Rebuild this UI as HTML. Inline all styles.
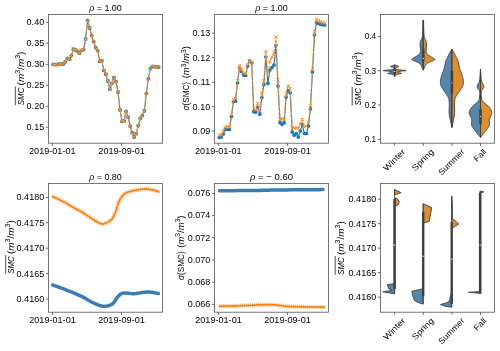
<!DOCTYPE html>
<html><head><meta charset="utf-8"><style>
html,body{margin:0;padding:0;background:#fff;}
svg{display:block;will-change:transform;}
text{font-family:"Liberation Sans", sans-serif;fill:#000;}
</style></head><body>
<svg width="500" height="351" viewBox="0 0 500 351">
<rect width="500" height="351" fill="#fff"/>
<rect x="48.5" y="14.5" width="114" height="128.7" fill="none" stroke="#555" stroke-width="0.8"/>
<rect x="214.5" y="14.5" width="114" height="128.7" fill="none" stroke="#555" stroke-width="0.8"/>
<rect x="380.5" y="14.5" width="114" height="128.7" fill="none" stroke="#555" stroke-width="0.8"/>
<rect x="48.5" y="183.5" width="114" height="128.7" fill="none" stroke="#555" stroke-width="0.8"/>
<rect x="214.5" y="183.5" width="114" height="128.7" fill="none" stroke="#555" stroke-width="0.8"/>
<rect x="380.5" y="183.5" width="114" height="128.7" fill="none" stroke="#555" stroke-width="0.8"/>
<line x1="45.9" y1="22.4" x2="48.5" y2="22.4" stroke="#555" stroke-width="0.9"/>
<text x="44.2" y="25.3" font-size="9" text-anchor="end" textLength="17.6" lengthAdjust="spacingAndGlyphs">0.40</text>
<line x1="45.9" y1="43.36" x2="48.5" y2="43.36" stroke="#555" stroke-width="0.9"/>
<text x="44.2" y="46.26" font-size="9" text-anchor="end" textLength="17.6" lengthAdjust="spacingAndGlyphs">0.35</text>
<line x1="45.9" y1="64.32" x2="48.5" y2="64.32" stroke="#555" stroke-width="0.9"/>
<text x="44.2" y="67.22" font-size="9" text-anchor="end" textLength="17.6" lengthAdjust="spacingAndGlyphs">0.30</text>
<line x1="45.9" y1="85.28" x2="48.5" y2="85.28" stroke="#555" stroke-width="0.9"/>
<text x="44.2" y="88.18" font-size="9" text-anchor="end" textLength="17.6" lengthAdjust="spacingAndGlyphs">0.25</text>
<line x1="45.9" y1="106.24" x2="48.5" y2="106.24" stroke="#555" stroke-width="0.9"/>
<text x="44.2" y="109.14" font-size="9" text-anchor="end" textLength="17.6" lengthAdjust="spacingAndGlyphs">0.20</text>
<line x1="45.9" y1="127.2" x2="48.5" y2="127.2" stroke="#555" stroke-width="0.9"/>
<text x="44.2" y="130.1" font-size="9" text-anchor="end" textLength="17.6" lengthAdjust="spacingAndGlyphs">0.15</text>
<line x1="52.3" y1="143.2" x2="52.3" y2="145.8" stroke="#555" stroke-width="0.9"/>
<text x="52.3" y="154.2" font-size="9" text-anchor="middle" textLength="46.5" lengthAdjust="spacingAndGlyphs">2019-01-01</text>
<line x1="121.6" y1="143.2" x2="121.6" y2="145.8" stroke="#555" stroke-width="0.9"/>
<text x="121.6" y="154.2" font-size="9" text-anchor="middle" textLength="46.5" lengthAdjust="spacingAndGlyphs">2019-09-01</text>
<polyline points="53.2,64.4 55.23,64.6 57.25,64.6 59.28,63.9 61.3,64 63.33,64 65.35,61.8 67.38,58.4 69.4,59.2 71.42,55.5 73.45,49.2 75.47,49.9 77.5,51.4 79.53,53 81.55,50.3 83.58,49.7 85.6,38.8 87.62,20.4 89.65,28 91.68,35.6 93.7,41.6 95.72,47.7 97.75,50.6 99.78,61.3 101.8,60.6 103.83,70.3 105.85,74.2 107.88,80.9 109.9,89.1 111.92,83.4 113.95,77.7 115.97,81.7 118,91.9 120.03,110 122.05,121.4 124.08,120.9 126.1,111.4 128.12,117.1 130.15,126.1 132.18,132.7 134.2,137 136.22,133.7 138.25,125.6 140.28,118.5 142.3,115.7 144.32,111 146.35,93.5 148.38,78.7 150.4,68.5 152.43,66.3 154.45,66.8 156.47,66.8 158.5,67.2" fill="none" stroke="#1f77b4" stroke-width="1.1"/>
<circle cx="53.2" cy="64.4" r="1.9" fill="#1f77b4"/>
<circle cx="55.23" cy="64.6" r="1.9" fill="#1f77b4"/>
<circle cx="57.25" cy="64.6" r="1.9" fill="#1f77b4"/>
<circle cx="59.28" cy="63.9" r="1.9" fill="#1f77b4"/>
<circle cx="61.3" cy="64" r="1.9" fill="#1f77b4"/>
<circle cx="63.33" cy="64" r="1.9" fill="#1f77b4"/>
<circle cx="65.35" cy="61.8" r="1.9" fill="#1f77b4"/>
<circle cx="67.38" cy="58.4" r="1.9" fill="#1f77b4"/>
<circle cx="69.4" cy="59.2" r="1.9" fill="#1f77b4"/>
<circle cx="71.42" cy="55.5" r="1.9" fill="#1f77b4"/>
<circle cx="73.45" cy="49.2" r="1.9" fill="#1f77b4"/>
<circle cx="75.47" cy="49.9" r="1.9" fill="#1f77b4"/>
<circle cx="77.5" cy="51.4" r="1.9" fill="#1f77b4"/>
<circle cx="79.53" cy="53" r="1.9" fill="#1f77b4"/>
<circle cx="81.55" cy="50.3" r="1.9" fill="#1f77b4"/>
<circle cx="83.58" cy="49.7" r="1.9" fill="#1f77b4"/>
<circle cx="85.6" cy="38.8" r="1.9" fill="#1f77b4"/>
<circle cx="87.62" cy="20.4" r="1.9" fill="#1f77b4"/>
<circle cx="89.65" cy="28" r="1.9" fill="#1f77b4"/>
<circle cx="91.68" cy="35.6" r="1.9" fill="#1f77b4"/>
<circle cx="93.7" cy="41.6" r="1.9" fill="#1f77b4"/>
<circle cx="95.72" cy="47.7" r="1.9" fill="#1f77b4"/>
<circle cx="97.75" cy="50.6" r="1.9" fill="#1f77b4"/>
<circle cx="99.78" cy="61.3" r="1.9" fill="#1f77b4"/>
<circle cx="101.8" cy="60.6" r="1.9" fill="#1f77b4"/>
<circle cx="103.83" cy="70.3" r="1.9" fill="#1f77b4"/>
<circle cx="105.85" cy="74.2" r="1.9" fill="#1f77b4"/>
<circle cx="107.88" cy="80.9" r="1.9" fill="#1f77b4"/>
<circle cx="109.9" cy="89.1" r="1.9" fill="#1f77b4"/>
<circle cx="111.92" cy="83.4" r="1.9" fill="#1f77b4"/>
<circle cx="113.95" cy="77.7" r="1.9" fill="#1f77b4"/>
<circle cx="115.97" cy="81.7" r="1.9" fill="#1f77b4"/>
<circle cx="118" cy="91.9" r="1.9" fill="#1f77b4"/>
<circle cx="120.03" cy="110" r="1.9" fill="#1f77b4"/>
<circle cx="122.05" cy="121.4" r="1.9" fill="#1f77b4"/>
<circle cx="124.08" cy="120.9" r="1.9" fill="#1f77b4"/>
<circle cx="126.1" cy="111.4" r="1.9" fill="#1f77b4"/>
<circle cx="128.12" cy="117.1" r="1.9" fill="#1f77b4"/>
<circle cx="130.15" cy="126.1" r="1.9" fill="#1f77b4"/>
<circle cx="132.18" cy="132.7" r="1.9" fill="#1f77b4"/>
<circle cx="134.2" cy="137" r="1.9" fill="#1f77b4"/>
<circle cx="136.22" cy="133.7" r="1.9" fill="#1f77b4"/>
<circle cx="138.25" cy="125.6" r="1.9" fill="#1f77b4"/>
<circle cx="140.28" cy="118.5" r="1.9" fill="#1f77b4"/>
<circle cx="142.3" cy="115.7" r="1.9" fill="#1f77b4"/>
<circle cx="144.32" cy="111" r="1.9" fill="#1f77b4"/>
<circle cx="146.35" cy="93.5" r="1.9" fill="#1f77b4"/>
<circle cx="148.38" cy="78.7" r="1.9" fill="#1f77b4"/>
<circle cx="150.4" cy="68.5" r="1.9" fill="#1f77b4"/>
<circle cx="152.43" cy="66.3" r="1.9" fill="#1f77b4"/>
<circle cx="154.45" cy="66.8" r="1.9" fill="#1f77b4"/>
<circle cx="156.47" cy="66.8" r="1.9" fill="#1f77b4"/>
<circle cx="158.5" cy="67.2" r="1.9" fill="#1f77b4"/>
<polyline points="53.2,64.4 55.23,64.6 57.25,64.6 59.28,63.9 61.3,64 63.33,64 65.35,61.8 67.38,58.4 69.4,59.2 71.42,55.5 73.45,49.2 75.47,49.9 77.5,51.4 79.53,53 81.55,50.3 83.58,49.7 85.6,38.8 87.62,20.4 89.65,28 91.68,35.6 93.7,41.6 95.72,47.7 97.75,50.6 99.78,61.3 101.8,60.6 103.83,70.3 105.85,74.2 107.88,80.9 109.9,89.1 111.92,83.4 113.95,77.7 115.97,81.7 118,91.9 120.03,110 122.05,121.4 124.08,120.9 126.1,111.4 128.12,117.1 130.15,126.1 132.18,132.7 134.2,137 136.22,133.7 138.25,125.6 140.28,118.5 142.3,115.7 144.32,111 146.35,93.5 148.38,78.7 150.4,68.5 152.43,66.3 154.45,66.8 156.47,66.8 158.5,67.2" fill="none" stroke="#ff9024" stroke-width="1.1" stroke-dasharray="3 1.4"/>
<path d="M51.6 62.8L54.8 66M51.6 66L54.8 62.8M53.62 63L56.83 66.2M53.62 66.2L56.83 63M55.65 63L58.85 66.2M55.65 66.2L58.85 63M57.68 62.3L60.88 65.5M57.68 65.5L60.88 62.3M59.7 62.4L62.9 65.6M59.7 65.6L62.9 62.4M61.73 62.4L64.92 65.6M61.73 65.6L64.92 62.4M63.75 60.2L66.95 63.4M63.75 63.4L66.95 60.2M65.78 56.8L68.97 60M65.78 60L68.97 56.8M67.8 57.6L71 60.8M67.8 60.8L71 57.6M69.83 53.9L73.02 57.1M69.83 57.1L73.02 53.9M71.85 47.6L75.05 50.8M71.85 50.8L75.05 47.6M73.88 48.3L77.07 51.5M73.88 51.5L77.07 48.3M75.9 49.8L79.1 53M75.9 53L79.1 49.8M77.93 51.4L81.12 54.6M77.93 54.6L81.12 51.4M79.95 48.7L83.15 51.9M79.95 51.9L83.15 48.7M81.98 48.1L85.17 51.3M81.98 51.3L85.17 48.1M84 37.2L87.2 40.4M84 40.4L87.2 37.2M86.03 18.8L89.22 22M86.03 22L89.22 18.8M88.05 26.4L91.25 29.6M88.05 29.6L91.25 26.4M90.08 34L93.28 37.2M90.08 37.2L93.28 34M92.1 40L95.3 43.2M92.1 43.2L95.3 40M94.12 46.1L97.32 49.3M94.12 49.3L97.32 46.1M96.15 49L99.35 52.2M96.15 52.2L99.35 49M98.18 59.7L101.38 62.9M98.18 62.9L101.38 59.7M100.2 59L103.4 62.2M100.2 62.2L103.4 59M102.23 68.7L105.42 71.9M102.23 71.9L105.42 68.7M104.25 72.6L107.45 75.8M104.25 75.8L107.45 72.6M106.28 79.3L109.47 82.5M106.28 82.5L109.47 79.3M108.3 87.5L111.5 90.7M108.3 90.7L111.5 87.5M110.33 81.8L113.52 85M110.33 85L113.52 81.8M112.35 76.1L115.55 79.3M112.35 79.3L115.55 76.1M114.38 80.1L117.57 83.3M114.38 83.3L117.57 80.1M116.4 90.3L119.6 93.5M116.4 93.5L119.6 90.3M118.43 108.4L121.62 111.6M118.43 111.6L121.62 108.4M120.45 119.8L123.65 123M120.45 123L123.65 119.8M122.48 119.3L125.67 122.5M122.48 122.5L125.67 119.3M124.5 109.8L127.7 113M124.5 113L127.7 109.8M126.53 115.5L129.72 118.7M126.53 118.7L129.72 115.5M128.55 124.5L131.75 127.7M128.55 127.7L131.75 124.5M130.58 131.1L133.78 134.3M130.58 134.3L133.78 131.1M132.6 135.4L135.8 138.6M132.6 138.6L135.8 135.4M134.62 132.1L137.82 135.3M134.62 135.3L137.82 132.1M136.65 124L139.85 127.2M136.65 127.2L139.85 124M138.68 116.9L141.88 120.1M138.68 120.1L141.88 116.9M140.7 114.1L143.9 117.3M140.7 117.3L143.9 114.1M142.72 109.4L145.92 112.6M142.72 112.6L145.92 109.4M144.75 91.9L147.95 95.1M144.75 95.1L147.95 91.9M146.78 77.1L149.97 80.3M146.78 80.3L149.97 77.1M148.8 66.9L152 70.1M148.8 70.1L152 66.9M150.83 64.7L154.03 67.9M150.83 67.9L154.03 64.7M152.85 65.2L156.05 68.4M152.85 68.4L156.05 65.2M154.88 65.2L158.07 68.4M154.88 68.4L158.07 65.2M156.9 65.6L160.1 68.8M156.9 68.8L160.1 65.6" stroke="#ff9024" stroke-width="1" fill="none"/>
<text x="105.5" y="11.2" font-size="9.3" text-anchor="middle" textLength="32.6" lengthAdjust="spacingAndGlyphs"><tspan font-style="italic">&#961;</tspan> = 1.00</text>
<g transform="translate(23.6,105.2) rotate(-90)">
<text x="0" y="0" font-size="9" font-style="italic" textLength="17.6" lengthAdjust="spacingAndGlyphs">SMC</text>
<text x="19.8" y="0" font-size="9" textLength="33.8" lengthAdjust="spacingAndGlyphs">(<tspan font-style="italic">m</tspan><tspan font-size="6.3" dy="-3.6">3</tspan><tspan dy="3.6">/</tspan><tspan font-style="italic">m</tspan><tspan font-size="6.3" dy="-3.6">3</tspan><tspan dy="3.6">)</tspan></text>
</g>
<line x1="15.3" y1="105.2" x2="15.3" y2="86.5" stroke="#000" stroke-width="0.7"/>
<line x1="211.9" y1="33.2" x2="214.5" y2="33.2" stroke="#555" stroke-width="0.9"/>
<text x="210.2" y="36.1" font-size="9" text-anchor="end" textLength="17.6" lengthAdjust="spacingAndGlyphs">0.13</text>
<line x1="211.9" y1="57.67" x2="214.5" y2="57.67" stroke="#555" stroke-width="0.9"/>
<text x="210.2" y="60.57" font-size="9" text-anchor="end" textLength="17.6" lengthAdjust="spacingAndGlyphs">0.12</text>
<line x1="211.9" y1="82.15" x2="214.5" y2="82.15" stroke="#555" stroke-width="0.9"/>
<text x="210.2" y="85.05" font-size="9" text-anchor="end" textLength="17.6" lengthAdjust="spacingAndGlyphs">0.11</text>
<line x1="211.9" y1="106.62" x2="214.5" y2="106.62" stroke="#555" stroke-width="0.9"/>
<text x="210.2" y="109.52" font-size="9" text-anchor="end" textLength="17.6" lengthAdjust="spacingAndGlyphs">0.10</text>
<line x1="211.9" y1="131.1" x2="214.5" y2="131.1" stroke="#555" stroke-width="0.9"/>
<text x="210.2" y="134" font-size="9" text-anchor="end" textLength="17.6" lengthAdjust="spacingAndGlyphs">0.09</text>
<line x1="218.3" y1="143.2" x2="218.3" y2="145.8" stroke="#555" stroke-width="0.9"/>
<text x="218.3" y="154.2" font-size="9" text-anchor="middle" textLength="46.5" lengthAdjust="spacingAndGlyphs">2019-01-01</text>
<line x1="287.6" y1="143.2" x2="287.6" y2="145.8" stroke="#555" stroke-width="0.9"/>
<text x="287.6" y="154.2" font-size="9" text-anchor="middle" textLength="46.5" lengthAdjust="spacingAndGlyphs">2019-09-01</text>
<polyline points="219.3,137.5 221.33,137.1 223.35,134 225.38,129.4 227.4,129.4 229.43,129.4 231.45,116.5 233.48,101.6 235.5,101.2 237.53,83 239.55,67.4 241.58,71.5 243.6,75.1 245.62,75.5 247.65,66.1 249.68,61 251.7,62.7 253.73,111.7 255.75,112.1 257.78,107 259.8,114.2 261.82,97.6 263.85,84.6 265.88,57 267.9,83.4 269.93,70 271.95,67.5 273.98,65 276,45.5 278.02,86 280.05,122.7 282.07,124.4 284.1,122.7 286.12,97.1 288.15,90.7 290.18,92.8 292.2,131.9 294.23,135.2 296.25,133.5 298.27,137.1 300.3,131 302.32,124.4 304.35,133.5 306.38,133.5 308.4,126.1 310.43,108.9 312.45,71.9 314.48,35.1 316.5,22.4 318.52,23.6 320.55,24.3 322.57,24.7 324.6,25" fill="none" stroke="#1f77b4" stroke-width="1.1"/>
<circle cx="219.3" cy="137.5" r="1.85" fill="#1f77b4"/>
<circle cx="221.33" cy="137.1" r="1.85" fill="#1f77b4"/>
<circle cx="223.35" cy="134" r="1.85" fill="#1f77b4"/>
<circle cx="225.38" cy="129.4" r="1.85" fill="#1f77b4"/>
<circle cx="227.4" cy="129.4" r="1.85" fill="#1f77b4"/>
<circle cx="229.43" cy="129.4" r="1.85" fill="#1f77b4"/>
<circle cx="231.45" cy="116.5" r="1.85" fill="#1f77b4"/>
<circle cx="233.48" cy="101.6" r="1.85" fill="#1f77b4"/>
<circle cx="235.5" cy="101.2" r="1.85" fill="#1f77b4"/>
<circle cx="237.53" cy="83" r="1.85" fill="#1f77b4"/>
<circle cx="239.55" cy="67.4" r="1.85" fill="#1f77b4"/>
<circle cx="241.58" cy="71.5" r="1.85" fill="#1f77b4"/>
<circle cx="243.6" cy="75.1" r="1.85" fill="#1f77b4"/>
<circle cx="245.62" cy="75.5" r="1.85" fill="#1f77b4"/>
<circle cx="247.65" cy="66.1" r="1.85" fill="#1f77b4"/>
<circle cx="249.68" cy="61" r="1.85" fill="#1f77b4"/>
<circle cx="251.7" cy="62.7" r="1.85" fill="#1f77b4"/>
<circle cx="253.73" cy="111.7" r="1.85" fill="#1f77b4"/>
<circle cx="255.75" cy="112.1" r="1.85" fill="#1f77b4"/>
<circle cx="257.78" cy="107" r="1.85" fill="#1f77b4"/>
<circle cx="259.8" cy="114.2" r="1.85" fill="#1f77b4"/>
<circle cx="261.82" cy="97.6" r="1.85" fill="#1f77b4"/>
<circle cx="263.85" cy="84.6" r="1.85" fill="#1f77b4"/>
<circle cx="265.88" cy="57" r="1.85" fill="#1f77b4"/>
<circle cx="267.9" cy="83.4" r="1.85" fill="#1f77b4"/>
<circle cx="269.93" cy="70" r="1.85" fill="#1f77b4"/>
<circle cx="271.95" cy="67.5" r="1.85" fill="#1f77b4"/>
<circle cx="273.98" cy="65" r="1.85" fill="#1f77b4"/>
<circle cx="276" cy="45.5" r="1.85" fill="#1f77b4"/>
<circle cx="278.02" cy="86" r="1.85" fill="#1f77b4"/>
<circle cx="280.05" cy="122.7" r="1.85" fill="#1f77b4"/>
<circle cx="282.07" cy="124.4" r="1.85" fill="#1f77b4"/>
<circle cx="284.1" cy="122.7" r="1.85" fill="#1f77b4"/>
<circle cx="286.12" cy="97.1" r="1.85" fill="#1f77b4"/>
<circle cx="288.15" cy="90.7" r="1.85" fill="#1f77b4"/>
<circle cx="290.18" cy="92.8" r="1.85" fill="#1f77b4"/>
<circle cx="292.2" cy="131.9" r="1.85" fill="#1f77b4"/>
<circle cx="294.23" cy="135.2" r="1.85" fill="#1f77b4"/>
<circle cx="296.25" cy="133.5" r="1.85" fill="#1f77b4"/>
<circle cx="298.27" cy="137.1" r="1.85" fill="#1f77b4"/>
<circle cx="300.3" cy="131" r="1.85" fill="#1f77b4"/>
<circle cx="302.32" cy="124.4" r="1.85" fill="#1f77b4"/>
<circle cx="304.35" cy="133.5" r="1.85" fill="#1f77b4"/>
<circle cx="306.38" cy="133.5" r="1.85" fill="#1f77b4"/>
<circle cx="308.4" cy="126.1" r="1.85" fill="#1f77b4"/>
<circle cx="310.43" cy="108.9" r="1.85" fill="#1f77b4"/>
<circle cx="312.45" cy="71.9" r="1.85" fill="#1f77b4"/>
<circle cx="314.48" cy="35.1" r="1.85" fill="#1f77b4"/>
<circle cx="316.5" cy="22.4" r="1.85" fill="#1f77b4"/>
<circle cx="318.52" cy="23.6" r="1.85" fill="#1f77b4"/>
<circle cx="320.55" cy="24.3" r="1.85" fill="#1f77b4"/>
<circle cx="322.57" cy="24.7" r="1.85" fill="#1f77b4"/>
<circle cx="324.6" cy="25" r="1.85" fill="#1f77b4"/>
<polyline points="219.3,135 221.33,134.7 223.35,131 225.38,126.9 227.4,126.3 229.43,127.2 231.45,114 233.48,99.5 235.5,98.5 237.53,80.5 239.55,65.4 241.58,69.5 243.6,73 245.62,73.5 247.65,64 249.68,60.5 251.7,62 253.73,107.8 255.75,110 257.78,103.5 259.8,110.8 261.82,93.7 263.85,80.9 265.88,51.4 267.9,75.4 269.93,61.5 271.95,57 273.98,53 276,37 278.02,80.1 280.05,119 282.07,118.8 284.1,119.5 286.12,93.5 288.15,85.7 290.18,88.5 292.2,127.7 294.23,128.2 296.25,128 298.27,128.5 300.3,124 302.32,119.5 304.35,127 306.38,126 308.4,122 310.43,105.5 312.45,69 314.48,31.7 316.5,19.1 318.52,20.4 320.55,21.7 322.57,22.7 324.6,23" fill="none" stroke="#ff9024" stroke-width="1.1" stroke-dasharray="3 1.4"/>
<path d="M217.7 133.4L220.9 136.6M217.7 136.6L220.9 133.4M219.73 133.1L222.93 136.3M219.73 136.3L222.93 133.1M221.75 129.4L224.95 132.6M221.75 132.6L224.95 129.4M223.78 125.3L226.97 128.5M223.78 128.5L226.97 125.3M225.8 124.7L229 127.9M225.8 127.9L229 124.7M227.83 125.6L231.03 128.8M227.83 128.8L231.03 125.6M229.85 112.4L233.05 115.6M229.85 115.6L233.05 112.4M231.88 97.9L235.08 101.1M231.88 101.1L235.08 97.9M233.9 96.9L237.1 100.1M233.9 100.1L237.1 96.9M235.93 78.9L239.12 82.1M235.93 82.1L239.12 78.9M237.95 63.8L241.15 67M237.95 67L241.15 63.8M239.98 67.9L243.18 71.1M239.98 71.1L243.18 67.9M242 71.4L245.2 74.6M242 74.6L245.2 71.4M244.03 71.9L247.22 75.1M244.03 75.1L247.22 71.9M246.05 62.4L249.25 65.6M246.05 65.6L249.25 62.4M248.08 58.9L251.28 62.1M248.08 62.1L251.28 58.9M250.1 60.4L253.3 63.6M250.1 63.6L253.3 60.4M252.13 106.2L255.33 109.4M252.13 109.4L255.33 106.2M254.15 108.4L257.35 111.6M254.15 111.6L257.35 108.4M256.18 101.9L259.38 105.1M256.18 105.1L259.38 101.9M258.2 109.2L261.4 112.4M258.2 112.4L261.4 109.2M260.22 92.1L263.43 95.3M260.22 95.3L263.43 92.1M262.25 79.3L265.45 82.5M262.25 82.5L265.45 79.3M264.27 49.8L267.48 53M264.27 53L267.48 49.8M266.3 73.8L269.5 77M266.3 77L269.5 73.8M268.32 59.9L271.53 63.1M268.32 63.1L271.53 59.9M270.35 55.4L273.55 58.6M270.35 58.6L273.55 55.4M272.38 51.4L275.58 54.6M272.38 54.6L275.58 51.4M274.4 35.4L277.6 38.6M274.4 38.6L277.6 35.4M276.42 78.5L279.62 81.7M276.42 81.7L279.62 78.5M278.45 117.4L281.65 120.6M278.45 120.6L281.65 117.4M280.47 117.2L283.68 120.4M280.47 120.4L283.68 117.2M282.5 117.9L285.7 121.1M282.5 121.1L285.7 117.9M284.52 91.9L287.73 95.1M284.52 95.1L287.73 91.9M286.55 84.1L289.75 87.3M286.55 87.3L289.75 84.1M288.57 86.9L291.78 90.1M288.57 90.1L291.78 86.9M290.6 126.1L293.8 129.3M290.6 129.3L293.8 126.1M292.62 126.6L295.83 129.8M292.62 129.8L295.83 126.6M294.65 126.4L297.85 129.6M294.65 129.6L297.85 126.4M296.67 126.9L299.88 130.1M296.67 130.1L299.88 126.9M298.7 122.4L301.9 125.6M298.7 125.6L301.9 122.4M300.72 117.9L303.93 121.1M300.72 121.1L303.93 117.9M302.75 125.4L305.95 128.6M302.75 128.6L305.95 125.4M304.77 124.4L307.98 127.6M304.77 127.6L307.98 124.4M306.8 120.4L310 123.6M306.8 123.6L310 120.4M308.82 103.9L312.03 107.1M308.82 107.1L312.03 103.9M310.85 67.4L314.05 70.6M310.85 70.6L314.05 67.4M312.88 30.1L316.08 33.3M312.88 33.3L316.08 30.1M314.9 17.5L318.1 20.7M314.9 20.7L318.1 17.5M316.92 18.8L320.12 22M316.92 22L320.12 18.8M318.95 20.1L322.15 23.3M318.95 23.3L322.15 20.1M320.97 21.1L324.18 24.3M320.97 24.3L324.18 21.1M323 21.4L326.2 24.6M323 24.6L326.2 21.4" stroke="#ff9024" stroke-width="1" fill="none"/>
<text x="271.5" y="11.2" font-size="9.3" text-anchor="middle" textLength="32.6" lengthAdjust="spacingAndGlyphs"><tspan font-style="italic">&#961;</tspan> = 1.00</text>
<g transform="translate(189.3,110.5) rotate(-90)">
<text x="0" y="0" font-size="9" textLength="28.6" lengthAdjust="spacingAndGlyphs"><tspan font-style="italic">&#963;</tspan>(SMC)</text>
<text x="32.2" y="0" font-size="9" textLength="32.2" lengthAdjust="spacingAndGlyphs">(<tspan font-style="italic">m</tspan><tspan font-size="6.3" dy="-3.6">3</tspan><tspan dy="3.6">/</tspan><tspan font-style="italic">m</tspan><tspan font-size="6.3" dy="-3.6">3</tspan><tspan dy="3.6">)</tspan></text>
</g>
<line x1="377.9" y1="36.4" x2="380.5" y2="36.4" stroke="#555" stroke-width="0.9"/>
<text x="376.2" y="39.3" font-size="9" text-anchor="end" textLength="11.5" lengthAdjust="spacingAndGlyphs">0.4</text>
<line x1="377.9" y1="70.73" x2="380.5" y2="70.73" stroke="#555" stroke-width="0.9"/>
<text x="376.2" y="73.63" font-size="9" text-anchor="end" textLength="11.5" lengthAdjust="spacingAndGlyphs">0.3</text>
<line x1="377.9" y1="105.06" x2="380.5" y2="105.06" stroke="#555" stroke-width="0.9"/>
<text x="376.2" y="107.96" font-size="9" text-anchor="end" textLength="11.5" lengthAdjust="spacingAndGlyphs">0.2</text>
<line x1="377.9" y1="139.39" x2="380.5" y2="139.39" stroke="#555" stroke-width="0.9"/>
<text x="376.2" y="142.29" font-size="9" text-anchor="end" textLength="11.5" lengthAdjust="spacingAndGlyphs">0.1</text>
<g transform="translate(360.5,105.6) rotate(-90)">
<text x="0" y="0" font-size="9" font-style="italic" textLength="17.6" lengthAdjust="spacingAndGlyphs">SMC</text>
<text x="19.8" y="0" font-size="9" textLength="33.8" lengthAdjust="spacingAndGlyphs">(<tspan font-style="italic">m</tspan><tspan font-size="6.3" dy="-3.6">3</tspan><tspan dy="3.6">/</tspan><tspan font-style="italic">m</tspan><tspan font-size="6.3" dy="-3.6">3</tspan><tspan dy="3.6">)</tspan></text>
</g>
<line x1="352.2" y1="105.6" x2="352.2" y2="86.9" stroke="#000" stroke-width="0.7"/>
<path d="M394.7 64.8L394.7 64.8L394.35 64.94L393.84 65.14L393.26 65.37L392.7 65.6L392.07 65.82L391.35 66.05L390.76 66.28L390.5 66.5L390.72 66.7L391.28 66.89L391.95 67.09L392.5 67.3L392.92 67.53L393.31 67.77L393.62 68.02L393.8 68.3L394 68.61L394.21 68.96L394.06 69.3L393.2 69.6L391 69.86L387.82 70.09L384.83 70.3L383.2 70.5L383.53 70.69L385.11 70.86L387.1 71.02L388.7 71.2L389.84 71.39L390.92 71.59L391.76 71.8L392.2 72L392.1 72.2L391.57 72.41L390.86 72.61L390.2 72.8L389.48 72.96L388.64 73.11L387.95 73.25L387.7 73.4L388.07 73.54L388.87 73.68L389.84 73.82L390.7 74L391.45 74.21L392.21 74.44L392.92 74.71L393.5 75L393.94 75.38L394.27 75.81L394.52 76.22L394.7 76.5L394.7 76.5Z" fill="#5686ad" stroke="#404040" stroke-width="0.9" stroke-linejoin="round"/>
<path d="M394.7 64.8L394.7 64.8L395.05 64.94L395.56 65.14L396.14 65.37L396.7 65.6L397.33 65.82L398.05 66.05L398.64 66.28L398.9 66.5L398.68 66.7L398.12 66.89L397.45 67.09L396.9 67.3L396.48 67.53L396.09 67.77L395.77 68.02L395.6 68.3L395.4 68.61L395.19 68.96L395.34 69.3L396.2 69.6L398.4 69.86L401.58 70.09L404.57 70.3L406.2 70.5L405.87 70.69L404.29 70.86L402.3 71.02L400.7 71.2L399.56 71.39L398.48 71.59L397.64 71.8L397.2 72L397.3 72.2L397.82 72.41L398.54 72.61L399.2 72.8L399.92 72.96L400.76 73.11L401.45 73.25L401.7 73.4L401.33 73.54L400.53 73.68L399.56 73.82L398.7 74L397.95 74.21L397.19 74.44L396.48 74.71L395.9 75L395.46 75.38L395.12 75.81L394.88 76.22L394.7 76.5L394.7 76.5Z" fill="#e08d2b" stroke="#404040" stroke-width="0.9" stroke-linejoin="round"/>
<line x1="394.7" y1="64.8" x2="394.7" y2="76.5" stroke="#404040" stroke-width="0.8"/>
<line x1="394.7" y1="68.8" x2="394.7" y2="74" stroke="#404040" stroke-width="2.6"/>
<circle cx="394.7" cy="71.4" r="0.65" fill="#ddd"/>
<path d="M423.3 20L423.1 20L423.05 21.89L422.97 24.62L422.88 27.55L422.8 30L422.74 31.86L422.68 33.47L422.61 34.84L422.5 36L422.34 36.87L422.15 37.47L421.93 37.96L421.7 38.5L421.43 39.09L421.13 39.66L420.84 40.27L420.6 41L420.41 41.89L420.26 42.91L420.15 43.96L420.1 45L420.13 46.02L420.23 47.06L420.33 48.07L420.4 49L420.43 49.83L420.45 50.59L420.42 51.31L420.3 52L420.1 52.67L419.83 53.31L419.47 53.92L419 54.5L418.38 55.04L417.62 55.53L416.81 56.01L416 56.5L415.14 57.03L414.23 57.57L413.37 58.08L412.7 58.5L412.24 58.8L411.93 59.02L411.76 59.2L411.7 59.4L411.76 59.62L411.94 59.83L412.26 60.05L412.7 60.3L413.33 60.57L414.12 60.86L414.98 61.17L415.8 61.5L416.58 61.84L417.37 62.2L418.12 62.58L418.8 63L419.39 63.45L419.91 63.94L420.37 64.45L420.8 65L421.18 65.59L421.5 66.21L421.8 66.86L422.1 67.5L422.44 68.2L422.78 68.96L423.09 69.63L423.3 70.1L423.3 70.1Z" fill="#5686ad" stroke="#404040" stroke-width="0.9" stroke-linejoin="round"/>
<path d="M423.3 20L423.5 20L423.55 21.89L423.63 24.62L423.72 27.55L423.8 30L423.86 31.86L423.92 33.47L423.99 34.84L424.1 36L424.26 36.87L424.45 37.47L424.67 37.96L424.9 38.5L425.17 39.09L425.47 39.66L425.76 40.27L426 41L426.19 41.89L426.34 42.91L426.45 43.96L426.5 45L426.47 46.02L426.38 47.06L426.27 48.07L426.2 49L426.17 49.83L426.15 50.59L426.18 51.31L426.3 52L426.5 52.67L426.77 53.31L427.13 53.92L427.6 54.5L428.22 55.04L428.98 55.53L429.79 56.01L430.6 56.5L431.46 57.03L432.38 57.57L433.23 58.08L433.9 58.5L434.36 58.8L434.67 59.02L434.84 59.2L434.9 59.4L434.84 59.62L434.66 59.83L434.34 60.05L433.9 60.3L433.27 60.57L432.48 60.86L431.62 61.17L430.8 61.5L430.02 61.84L429.23 62.2L428.48 62.58L427.8 63L427.21 63.45L426.69 63.94L426.23 64.45L425.8 65L425.42 65.59L425.1 66.21L424.8 66.86L424.5 67.5L424.16 68.2L423.82 68.96L423.51 69.63L423.3 70.1L423.3 70.1Z" fill="#e08d2b" stroke="#404040" stroke-width="0.9" stroke-linejoin="round"/>
<line x1="423.3" y1="20" x2="423.3" y2="70" stroke="#404040" stroke-width="0.8"/>
<line x1="423.3" y1="48.7" x2="423.3" y2="61.5" stroke="#404040" stroke-width="2.6"/>
<circle cx="423.3" cy="58.5" r="0.65" fill="#ddd"/>
<path d="M451.9 49L451.9 49L451.77 49.26L451.57 49.62L451.35 50.05L451.1 50.5L450.83 50.95L450.52 51.44L450.21 51.95L449.9 52.5L449.61 53.07L449.32 53.68L449.03 54.31L448.7 55L448.31 55.78L447.89 56.64L447.47 57.48L447.1 58.2L446.8 58.72L446.55 59.11L446.32 59.5L446.1 60L445.89 60.64L445.69 61.36L445.5 62.14L445.3 63L445.11 63.96L444.92 65.03L444.72 66.1L444.5 67.1L444.25 67.99L443.98 68.82L443.7 69.65L443.4 70.5L443.09 71.39L442.76 72.29L442.43 73.23L442.1 74.2L441.75 75.23L441.39 76.31L441.06 77.41L440.8 78.5L440.61 79.6L440.47 80.72L440.4 81.8L440.4 82.8L440.48 83.7L440.64 84.52L440.85 85.28L441.1 86L441.4 86.65L441.74 87.24L442.12 87.8L442.5 88.4L442.87 89.02L443.26 89.66L443.66 90.31L444.1 91L444.59 91.74L445.13 92.53L445.68 93.33L446.2 94.1L446.71 94.84L447.22 95.57L447.7 96.29L448.1 97L448.41 97.64L448.65 98.22L448.84 98.9L449 99.8L449.13 100.99L449.22 102.39L449.27 103.92L449.3 105.5L449.27 107.22L449.18 109.08L449.11 110.9L449.1 112.5L449.18 113.79L449.32 114.88L449.5 115.9L449.7 117L449.92 118.21L450.16 119.44L450.43 120.71L450.7 122L451.01 123.45L451.36 125.01L451.68 126.42L451.9 127.4L451.9 127.4Z" fill="#5686ad" stroke="#404040" stroke-width="0.9" stroke-linejoin="round"/>
<path d="M451.9 49L451.9 49L452.03 49.26L452.22 49.62L452.45 50.05L452.7 50.5L452.97 50.95L453.27 51.44L453.59 51.95L453.9 52.5L454.19 53.07L454.47 53.68L454.77 54.31L455.1 55L455.49 55.78L455.91 56.64L456.33 57.48L456.7 58.2L457 58.72L457.25 59.11L457.48 59.5L457.7 60L457.91 60.64L458.11 61.36L458.3 62.14L458.5 63L458.69 63.96L458.88 65.03L459.08 66.1L459.3 67.1L459.55 67.99L459.82 68.82L460.1 69.65L460.4 70.5L460.71 71.39L461.04 72.29L461.37 73.23L461.7 74.2L462.05 75.23L462.41 76.31L462.74 77.41L463 78.5L463.19 79.6L463.32 80.72L463.4 81.8L463.4 82.8L463.32 83.7L463.16 84.52L462.95 85.28L462.7 86L462.4 86.65L462.06 87.24L461.68 87.8L461.3 88.4L460.93 89.02L460.54 89.66L460.14 90.31L459.7 91L459.21 91.74L458.67 92.53L458.12 93.33L457.6 94.1L457.09 94.84L456.57 95.57L456.1 96.29L455.7 97L455.39 97.64L455.15 98.22L454.96 98.9L454.8 99.8L454.67 100.99L454.58 102.39L454.53 103.92L454.5 105.5L454.53 107.22L454.62 109.08L454.69 110.9L454.7 112.5L454.62 113.79L454.47 114.88L454.3 115.9L454.1 117L453.88 118.21L453.64 119.44L453.37 120.71L453.1 122L452.79 123.45L452.44 125.01L452.12 126.42L451.9 127.4L451.9 127.4Z" fill="#e08d2b" stroke="#404040" stroke-width="0.9" stroke-linejoin="round"/>
<line x1="451.9" y1="49" x2="451.9" y2="127.4" stroke="#404040" stroke-width="0.8"/>
<line x1="451.9" y1="70.7" x2="451.9" y2="93.4" stroke="#404040" stroke-width="2.6"/>
<circle cx="451.9" cy="82.8" r="0.65" fill="#ddd"/>
<path d="M480.5 69L480.5 69L480.41 70.3L480.28 72.19L480.14 74.23L480 76L479.89 77.45L479.79 78.78L479.67 79.97L479.5 81L479.25 81.81L478.94 82.42L478.61 82.95L478.3 83.5L477.99 84.09L477.66 84.67L477.37 85.24L477.2 85.8L477.15 86.36L477.19 86.92L477.31 87.47L477.5 88L477.81 88.5L478.23 88.98L478.65 89.47L479 90L479.25 90.54L479.45 91.09L479.6 91.72L479.7 92.5L479.75 93.51L479.75 94.69L479.7 95.9L479.6 97L479.46 97.97L479.28 98.88L479.04 99.72L478.7 100.5L478.27 101.18L477.76 101.78L477.17 102.36L476.5 103L475.7 103.7L474.79 104.44L473.86 105.2L473 106L472.21 106.84L471.44 107.72L470.76 108.61L470.2 109.5L469.78 110.39L469.46 111.28L469.27 112.16L469.2 113L469.3 113.77L469.54 114.5L469.87 115.23L470.2 116L470.58 116.84L471.02 117.72L471.43 118.61L471.7 119.5L471.76 120.39L471.67 121.28L471.55 122.16L471.5 123L471.52 123.79L471.56 124.53L471.67 125.26L471.9 126L472.3 126.74L472.82 127.47L473.41 128.21L474 129L474.61 129.86L475.26 130.78L475.9 131.68L476.5 132.5L477.04 133.2L477.53 133.81L478.01 134.4L478.5 135L479.05 135.68L479.62 136.41L480.14 137.05L480.5 137.5L480.5 137.5Z" fill="#5686ad" stroke="#404040" stroke-width="0.9" stroke-linejoin="round"/>
<path d="M480.5 69L480.5 69L480.59 70.3L480.72 72.19L480.86 74.23L481 76L481.11 77.45L481.21 78.78L481.33 79.97L481.5 81L481.75 81.81L482.06 82.42L482.39 82.95L482.7 83.5L483.01 84.09L483.34 84.67L483.63 85.24L483.8 85.8L483.85 86.36L483.81 86.92L483.69 87.47L483.5 88L483.19 88.5L482.77 88.98L482.35 89.47L482 90L481.75 90.54L481.55 91.09L481.4 91.72L481.3 92.5L481.25 93.51L481.25 94.69L481.3 95.9L481.4 97L481.54 97.97L481.72 98.88L481.96 99.72L482.3 100.5L482.73 101.18L483.24 101.78L483.83 102.36L484.5 103L485.3 103.7L486.21 104.44L487.14 105.2L488 106L488.79 106.84L489.56 107.72L490.24 108.61L490.8 109.5L491.22 110.39L491.54 111.28L491.73 112.16L491.8 113L491.7 113.77L491.46 114.5L491.13 115.23L490.8 116L490.42 116.84L489.98 117.72L489.57 118.61L489.3 119.5L489.24 120.39L489.33 121.28L489.45 122.16L489.5 123L489.48 123.79L489.44 124.53L489.33 125.26L489.1 126L488.7 126.74L488.18 127.47L487.59 128.21L487 129L486.39 129.86L485.74 130.78L485.1 131.68L484.5 132.5L483.96 133.2L483.47 133.81L482.99 134.4L482.5 135L481.95 135.68L481.38 136.41L480.86 137.05L480.5 137.5L480.5 137.5Z" fill="#e08d2b" stroke="#404040" stroke-width="0.9" stroke-linejoin="round"/>
<line x1="480.5" y1="69" x2="480.5" y2="137.3" stroke="#404040" stroke-width="0.8"/>
<line x1="480.5" y1="109.2" x2="480.5" y2="124.2" stroke="#404040" stroke-width="2.6"/>
<circle cx="480.5" cy="116.4" r="0.65" fill="#ddd"/>
<line x1="394.7" y1="143.2" x2="394.7" y2="145.8" stroke="#555" stroke-width="0.9"/>
<line x1="423.3" y1="143.2" x2="423.3" y2="145.8" stroke="#555" stroke-width="0.9"/>
<line x1="451.9" y1="143.2" x2="451.9" y2="145.8" stroke="#555" stroke-width="0.9"/>
<line x1="480.5" y1="143.2" x2="480.5" y2="145.8" stroke="#555" stroke-width="0.9"/>
<g transform="translate(405.75,152.3) rotate(-45)">
<text x="0" y="0" font-size="8.4" text-anchor="end" textLength="27" lengthAdjust="spacingAndGlyphs">Winter</text>
</g>
<g transform="translate(434.35,152.3) rotate(-45)">
<text x="0" y="0" font-size="8.4" text-anchor="end" textLength="27" lengthAdjust="spacingAndGlyphs">Spring</text>
</g>
<g transform="translate(465.07,152.3) rotate(-45)">
<text x="0" y="0" font-size="8.4" text-anchor="end" textLength="33" lengthAdjust="spacingAndGlyphs">Summer</text>
</g>
<g transform="translate(486.95,152.3) rotate(-45)">
<text x="0" y="0" font-size="8.4" text-anchor="end" textLength="14" lengthAdjust="spacingAndGlyphs">Fall</text>
</g>
<line x1="45.9" y1="197.4" x2="48.5" y2="197.4" stroke="#555" stroke-width="0.9"/>
<text x="44.2" y="200.3" font-size="9" text-anchor="end" textLength="27.6" lengthAdjust="spacingAndGlyphs">0.4180</text>
<line x1="45.9" y1="222.8" x2="48.5" y2="222.8" stroke="#555" stroke-width="0.9"/>
<text x="44.2" y="225.7" font-size="9" text-anchor="end" textLength="27.6" lengthAdjust="spacingAndGlyphs">0.4175</text>
<line x1="45.9" y1="248.2" x2="48.5" y2="248.2" stroke="#555" stroke-width="0.9"/>
<text x="44.2" y="251.1" font-size="9" text-anchor="end" textLength="27.6" lengthAdjust="spacingAndGlyphs">0.4170</text>
<line x1="45.9" y1="273.6" x2="48.5" y2="273.6" stroke="#555" stroke-width="0.9"/>
<text x="44.2" y="276.5" font-size="9" text-anchor="end" textLength="27.6" lengthAdjust="spacingAndGlyphs">0.4165</text>
<line x1="45.9" y1="299" x2="48.5" y2="299" stroke="#555" stroke-width="0.9"/>
<text x="44.2" y="301.9" font-size="9" text-anchor="end" textLength="27.6" lengthAdjust="spacingAndGlyphs">0.4160</text>
<line x1="52.5" y1="312.2" x2="52.5" y2="314.8" stroke="#555" stroke-width="0.9"/>
<text x="52.5" y="323.4" font-size="9" text-anchor="middle" textLength="46.5" lengthAdjust="spacingAndGlyphs">2019-01-01</text>
<line x1="121.5" y1="312.2" x2="121.5" y2="314.8" stroke="#555" stroke-width="0.9"/>
<text x="121.5" y="323.4" font-size="9" text-anchor="middle" textLength="46.5" lengthAdjust="spacingAndGlyphs">2019-09-01</text>
<text x="105.5" y="180.2" font-size="9.3" text-anchor="middle" textLength="32.6" lengthAdjust="spacingAndGlyphs"><tspan font-style="italic">&#961;</tspan> = 0.80</text>
<g transform="translate(14,273.8) rotate(-90)">
<text x="0" y="0" font-size="9" font-style="italic" textLength="17.6" lengthAdjust="spacingAndGlyphs">SMC</text>
<text x="19.8" y="0" font-size="9" textLength="33.8" lengthAdjust="spacingAndGlyphs">(<tspan font-style="italic">m</tspan><tspan font-size="6.3" dy="-3.6">3</tspan><tspan dy="3.6">/</tspan><tspan font-style="italic">m</tspan><tspan font-size="6.3" dy="-3.6">3</tspan><tspan dy="3.6">)</tspan></text>
</g>
<line x1="5.7" y1="273.8" x2="5.7" y2="255.1" stroke="#000" stroke-width="0.7"/>
<polyline points="52.8,285 53.8,285.36 55.12,285.82 56.68,286.37 58.42,286.99 60.29,287.66 62.22,288.36 64.14,289.08 66,289.8 67.88,290.55 69.87,291.35 71.94,292.2 74.02,293.06 76.08,293.93 78.07,294.79 79.92,295.62 81.6,296.4 83.09,297.14 84.42,297.87 85.64,298.57 86.77,299.26 87.86,299.93 88.94,300.58 90.04,301.2 91.2,301.8 92.43,302.39 93.69,302.99 94.97,303.57 96.24,304.12 97.49,304.63 98.67,305.09 99.79,305.49 100.8,305.8 101.69,306.04 102.48,306.21 103.19,306.32 103.84,306.37 104.48,306.37 105.11,306.32 105.78,306.23 106.5,306.1 107.28,305.94 108.1,305.74 108.94,305.5 109.78,305.21 110.62,304.87 111.45,304.45 112.24,303.97 113,303.4 113.71,302.7 114.39,301.84 115.05,300.89 115.68,299.88 116.31,298.87 116.93,297.9 117.56,297.03 118.2,296.3 118.81,295.69 119.38,295.14 119.92,294.65 120.48,294.22 121.07,293.85 121.73,293.54 122.5,293.29 123.4,293.1 124.46,293.01 125.66,293.03 126.98,293.13 128.36,293.28 129.77,293.45 131.17,293.59 132.53,293.69 133.8,293.7 135.02,293.62 136.23,293.49 137.42,293.31 138.59,293.11 139.74,292.9 140.84,292.7 141.9,292.53 142.9,292.4 143.82,292.3 144.65,292.22 145.41,292.14 146.15,292.09 146.89,292.05 147.65,292.04 148.48,292.05 149.4,292.1 150.48,292.19 151.71,292.34 153.02,292.53 154.36,292.73 155.64,292.94 156.8,293.13 157.78,293.29 158.5,293.4" fill="none" stroke="#3a7db4" stroke-width="3.5" stroke-opacity="1" stroke-linecap="round" stroke-linejoin="round"/>
<polyline points="52.3,196.4 53.05,196.75 54.04,197.2 55.22,197.74 56.54,198.35 57.94,199.01 59.39,199.7 60.82,200.4 62.2,201.1 63.56,201.82 64.98,202.6 66.43,203.41 67.89,204.24 69.36,205.08 70.81,205.91 72.23,206.72 73.6,207.5 74.93,208.25 76.23,208.97 77.51,209.69 78.77,210.39 80.01,211.09 81.23,211.79 82.43,212.49 83.6,213.2 84.75,213.92 85.88,214.66 86.99,215.41 88.08,216.15 89.15,216.88 90.19,217.59 91.21,218.26 92.2,218.9 93.18,219.51 94.15,220.11 95.1,220.7 96.03,221.26 96.92,221.77 97.76,222.24 98.56,222.66 99.3,223 99.94,223.29 100.47,223.54 100.93,223.75 101.36,223.9 101.8,223.99 102.27,224.01 102.83,223.95 103.5,223.8 104.32,223.56 105.26,223.24 106.28,222.85 107.34,222.38 108.41,221.85 109.43,221.25 110.38,220.6 111.2,219.9 111.91,219.14 112.54,218.3 113.1,217.41 113.62,216.45 114.1,215.44 114.57,214.4 115.03,213.31 115.5,212.2 115.96,211.02 116.37,209.75 116.76,208.41 117.14,207.05 117.53,205.69 117.94,204.35 118.4,203.08 118.9,201.9 119.44,200.78 120,199.69 120.57,198.63 121.18,197.62 121.83,196.66 122.53,195.76 123.28,194.94 124.1,194.2 124.98,193.56 125.91,193.01 126.89,192.54 127.92,192.12 129.01,191.76 130.15,191.43 131.35,191.11 132.6,190.8 133.96,190.49 135.44,190.19 137,189.92 138.6,189.68 140.2,189.47 141.76,189.3 143.24,189.18 144.6,189.1 145.85,189.08 147.03,189.12 148.15,189.2 149.22,189.32 150.25,189.47 151.23,189.64 152.18,189.82 153.1,190 154.01,190.21 154.92,190.47 155.8,190.76 156.63,191.06 157.4,191.35 158.08,191.61 158.65,191.84 159.1,192" fill="none" stroke="#ff7f0e" stroke-width="4" stroke-opacity="0.6" stroke-linecap="butt" stroke-linejoin="round" stroke-dasharray="1.1 0.95"/>
<polyline points="52.3,196.4 53.05,196.75 54.04,197.2 55.22,197.74 56.54,198.35 57.94,199.01 59.39,199.7 60.82,200.4 62.2,201.1 63.56,201.82 64.98,202.6 66.43,203.41 67.89,204.24 69.36,205.08 70.81,205.91 72.23,206.72 73.6,207.5 74.93,208.25 76.23,208.97 77.51,209.69 78.77,210.39 80.01,211.09 81.23,211.79 82.43,212.49 83.6,213.2 84.75,213.92 85.88,214.66 86.99,215.41 88.08,216.15 89.15,216.88 90.19,217.59 91.21,218.26 92.2,218.9 93.18,219.51 94.15,220.11 95.1,220.7 96.03,221.26 96.92,221.77 97.76,222.24 98.56,222.66 99.3,223 99.94,223.29 100.47,223.54 100.93,223.75 101.36,223.9 101.8,223.99 102.27,224.01 102.83,223.95 103.5,223.8 104.32,223.56 105.26,223.24 106.28,222.85 107.34,222.38 108.41,221.85 109.43,221.25 110.38,220.6 111.2,219.9 111.91,219.14 112.54,218.3 113.1,217.41 113.62,216.45 114.1,215.44 114.57,214.4 115.03,213.31 115.5,212.2 115.96,211.02 116.37,209.75 116.76,208.41 117.14,207.05 117.53,205.69 117.94,204.35 118.4,203.08 118.9,201.9 119.44,200.78 120,199.69 120.57,198.63 121.18,197.62 121.83,196.66 122.53,195.76 123.28,194.94 124.1,194.2 124.98,193.56 125.91,193.01 126.89,192.54 127.92,192.12 129.01,191.76 130.15,191.43 131.35,191.11 132.6,190.8 133.96,190.49 135.44,190.19 137,189.92 138.6,189.68 140.2,189.47 141.76,189.3 143.24,189.18 144.6,189.1 145.85,189.08 147.03,189.12 148.15,189.2 149.22,189.32 150.25,189.47 151.23,189.64 152.18,189.82 153.1,190 154.01,190.21 154.92,190.47 155.8,190.76 156.63,191.06 157.4,191.35 158.08,191.61 158.65,191.84 159.1,192" fill="none" stroke="#ff7f0e" stroke-width="1.6" stroke-opacity="1" stroke-linecap="round" stroke-linejoin="round"/>
<line x1="211.9" y1="193.4" x2="214.5" y2="193.4" stroke="#555" stroke-width="0.9"/>
<text x="210.2" y="196.3" font-size="9" text-anchor="end" textLength="22.5" lengthAdjust="spacingAndGlyphs">0.076</text>
<line x1="211.9" y1="215.58" x2="214.5" y2="215.58" stroke="#555" stroke-width="0.9"/>
<text x="210.2" y="218.48" font-size="9" text-anchor="end" textLength="22.5" lengthAdjust="spacingAndGlyphs">0.074</text>
<line x1="211.9" y1="237.76" x2="214.5" y2="237.76" stroke="#555" stroke-width="0.9"/>
<text x="210.2" y="240.66" font-size="9" text-anchor="end" textLength="22.5" lengthAdjust="spacingAndGlyphs">0.072</text>
<line x1="211.9" y1="259.94" x2="214.5" y2="259.94" stroke="#555" stroke-width="0.9"/>
<text x="210.2" y="262.84" font-size="9" text-anchor="end" textLength="22.5" lengthAdjust="spacingAndGlyphs">0.070</text>
<line x1="211.9" y1="282.12" x2="214.5" y2="282.12" stroke="#555" stroke-width="0.9"/>
<text x="210.2" y="285.02" font-size="9" text-anchor="end" textLength="22.5" lengthAdjust="spacingAndGlyphs">0.068</text>
<line x1="211.9" y1="304.3" x2="214.5" y2="304.3" stroke="#555" stroke-width="0.9"/>
<text x="210.2" y="307.2" font-size="9" text-anchor="end" textLength="22.5" lengthAdjust="spacingAndGlyphs">0.066</text>
<line x1="218.5" y1="312.2" x2="218.5" y2="314.8" stroke="#555" stroke-width="0.9"/>
<text x="218.5" y="323.4" font-size="9" text-anchor="middle" textLength="46.5" lengthAdjust="spacingAndGlyphs">2019-01-01</text>
<line x1="287.5" y1="312.2" x2="287.5" y2="314.8" stroke="#555" stroke-width="0.9"/>
<text x="287.5" y="323.4" font-size="9" text-anchor="middle" textLength="46.5" lengthAdjust="spacingAndGlyphs">2019-09-01</text>
<text x="250.0" y="180.3" font-size="9.3" text-anchor="start" textLength="43" lengthAdjust="spacingAndGlyphs"><tspan font-style="italic">&#961;</tspan> = &#8722; 0.60</text>
<g transform="translate(183.8,279.9) rotate(-90)">
<text x="0" y="0" font-size="9" textLength="28.6" lengthAdjust="spacingAndGlyphs"><tspan font-style="italic">&#963;</tspan>(SMC)</text>
<text x="32.2" y="0" font-size="9" textLength="32.2" lengthAdjust="spacingAndGlyphs">(<tspan font-style="italic">m</tspan><tspan font-size="6.3" dy="-3.6">3</tspan><tspan dy="3.6">/</tspan><tspan font-style="italic">m</tspan><tspan font-size="6.3" dy="-3.6">3</tspan><tspan dy="3.6">)</tspan></text>
</g>
<polyline points="219.5,190.7 221.08,190.69 223.2,190.68 225.71,190.67 228.5,190.66 231.45,190.65 234.43,190.63 237.32,190.62 240,190.6 242.56,190.58 245.15,190.56 247.76,190.54 250.34,190.52 252.89,190.49 255.36,190.47 257.74,190.44 260,190.4 262.05,190.36 263.87,190.31 265.55,190.26 267.19,190.2 268.86,190.14 270.66,190.09 272.68,190.04 275,190 277.66,189.97 280.59,189.94 283.73,189.91 287,189.89 290.33,189.87 293.66,189.85 296.9,189.82 300,189.8 303.13,189.77 306.43,189.75 309.78,189.72 313.06,189.69 316.15,189.66 318.91,189.64 321.24,189.62 323,189.6" fill="none" stroke="#3a7db4" stroke-width="3.5" stroke-opacity="1" stroke-linecap="round" stroke-linejoin="round"/>
<polyline points="219.2,306.2 220.8,306.16 222.91,306.12 225.42,306.07 228.22,306.01 231.2,305.94 234.23,305.86 237.2,305.79 240,305.7 242.77,305.6 245.7,305.48 248.69,305.36 251.68,305.22 254.58,305.1 257.32,304.98 259.82,304.88 262,304.8 263.84,304.74 265.39,304.7 266.72,304.66 267.88,304.64 268.92,304.64 269.92,304.64 270.93,304.66 272,304.7 273.1,304.76 274.16,304.84 275.19,304.93 276.19,305.04 277.16,305.16 278.12,305.28 279.06,305.39 280,305.5 280.88,305.6 281.68,305.71 282.43,305.81 283.19,305.92 283.98,306.02 284.85,306.12 285.84,306.21 287,306.3 288.26,306.38 289.56,306.45 290.93,306.52 292.4,306.58 294.01,306.64 295.79,306.7 297.78,306.75 300,306.8 302.69,306.85 305.91,306.9 309.46,306.94 313.11,306.98 316.67,307.02 319.91,307.05 322.62,307.08 324.6,307.1" fill="none" stroke="#ff7f0e" stroke-width="4" stroke-opacity="0.6" stroke-linecap="butt" stroke-linejoin="round" stroke-dasharray="1.1 0.95"/>
<polyline points="219.2,306.2 220.8,306.16 222.91,306.12 225.42,306.07 228.22,306.01 231.2,305.94 234.23,305.86 237.2,305.79 240,305.7 242.77,305.6 245.7,305.48 248.69,305.36 251.68,305.22 254.58,305.1 257.32,304.98 259.82,304.88 262,304.8 263.84,304.74 265.39,304.7 266.72,304.66 267.88,304.64 268.92,304.64 269.92,304.64 270.93,304.66 272,304.7 273.1,304.76 274.16,304.84 275.19,304.93 276.19,305.04 277.16,305.16 278.12,305.28 279.06,305.39 280,305.5 280.88,305.6 281.68,305.71 282.43,305.81 283.19,305.92 283.98,306.02 284.85,306.12 285.84,306.21 287,306.3 288.26,306.38 289.56,306.45 290.93,306.52 292.4,306.58 294.01,306.64 295.79,306.7 297.78,306.75 300,306.8 302.69,306.85 305.91,306.9 309.46,306.94 313.11,306.98 316.67,307.02 319.91,307.05 322.62,307.08 324.6,307.1" fill="none" stroke="#ff7f0e" stroke-width="1.6" stroke-opacity="1" stroke-linecap="round" stroke-linejoin="round"/>
<line x1="377.9" y1="199.2" x2="380.5" y2="199.2" stroke="#555" stroke-width="0.9"/>
<text x="376.2" y="202.1" font-size="9" text-anchor="end" textLength="27.6" lengthAdjust="spacingAndGlyphs">0.4180</text>
<line x1="377.9" y1="223.7" x2="380.5" y2="223.7" stroke="#555" stroke-width="0.9"/>
<text x="376.2" y="226.6" font-size="9" text-anchor="end" textLength="27.6" lengthAdjust="spacingAndGlyphs">0.4175</text>
<line x1="377.9" y1="248.2" x2="380.5" y2="248.2" stroke="#555" stroke-width="0.9"/>
<text x="376.2" y="251.1" font-size="9" text-anchor="end" textLength="27.6" lengthAdjust="spacingAndGlyphs">0.4170</text>
<line x1="377.9" y1="272.7" x2="380.5" y2="272.7" stroke="#555" stroke-width="0.9"/>
<text x="376.2" y="275.6" font-size="9" text-anchor="end" textLength="27.6" lengthAdjust="spacingAndGlyphs">0.4165</text>
<line x1="377.9" y1="297.2" x2="380.5" y2="297.2" stroke="#555" stroke-width="0.9"/>
<text x="376.2" y="300.1" font-size="9" text-anchor="end" textLength="27.6" lengthAdjust="spacingAndGlyphs">0.4160</text>
<g transform="translate(343.5,274.8) rotate(-90)">
<text x="0" y="0" font-size="9" font-style="italic" textLength="17.6" lengthAdjust="spacingAndGlyphs">SMC</text>
<text x="19.8" y="0" font-size="9" textLength="33.8" lengthAdjust="spacingAndGlyphs">(<tspan font-style="italic">m</tspan><tspan font-size="6.3" dy="-3.6">3</tspan><tspan dy="3.6">/</tspan><tspan font-style="italic">m</tspan><tspan font-size="6.3" dy="-3.6">3</tspan><tspan dy="3.6">)</tspan></text>
</g>
<line x1="335.2" y1="274.8" x2="335.2" y2="256.1" stroke="#000" stroke-width="0.7"/>
<line x1="394.7" y1="312.2" x2="394.7" y2="314.8" stroke="#555" stroke-width="0.9"/>
<line x1="423.3" y1="312.2" x2="423.3" y2="314.8" stroke="#555" stroke-width="0.9"/>
<line x1="451.9" y1="312.2" x2="451.9" y2="314.8" stroke="#555" stroke-width="0.9"/>
<line x1="480.5" y1="312.2" x2="480.5" y2="314.8" stroke="#555" stroke-width="0.9"/>
<g transform="translate(405.75,321.3) rotate(-45)">
<text x="0" y="0" font-size="8.4" text-anchor="end" textLength="27" lengthAdjust="spacingAndGlyphs">Winter</text>
</g>
<g transform="translate(434.35,321.3) rotate(-45)">
<text x="0" y="0" font-size="8.4" text-anchor="end" textLength="27" lengthAdjust="spacingAndGlyphs">Spring</text>
</g>
<g transform="translate(465.07,321.3) rotate(-45)">
<text x="0" y="0" font-size="8.4" text-anchor="end" textLength="33" lengthAdjust="spacingAndGlyphs">Summer</text>
</g>
<g transform="translate(486.95,321.3) rotate(-45)">
<text x="0" y="0" font-size="8.4" text-anchor="end" textLength="14" lengthAdjust="spacingAndGlyphs">Fall</text>
</g>
<path d="M394.6 189.6L401.1 192.7L394.6 195Z" fill="#e08d2b" stroke="#404040" stroke-width="0.9" stroke-linejoin="round"/>
<path d="M394.6 197.8L397.5 198.8L399.2 201.5L398.6 204.5L394.6 206.4Z" fill="#e08d2b" stroke="#404040" stroke-width="0.9" stroke-linejoin="round"/>
<path d="M394.6 283.7L387.4 284.6L388.5 288.6L392.5 290.4L382.8 291.7L394.6 293.9Z" fill="#5686ad" stroke="#404040" stroke-width="0.9" stroke-linejoin="round"/>
<line x1="394.6" y1="189.3" x2="394.6" y2="293.9" stroke="#404040" stroke-width="0.8"/>
<line x1="394.6" y1="199" x2="394.6" y2="288.8" stroke="#404040" stroke-width="2.6"/>
<circle cx="394.6" cy="245.3" r="0.7" fill="#ddd"/>
<path d="M423.2 203.7L431.7 207.6L429.2 221.3L423.2 223.2Z" fill="#e08d2b" stroke="#404040" stroke-width="0.9" stroke-linejoin="round"/>
<path d="M423.2 288.7L411.8 291.3L412.5 295L414.4 300.5L418 302.5L423.2 304.1Z" fill="#5686ad" stroke="#404040" stroke-width="0.9" stroke-linejoin="round"/>
<line x1="423.2" y1="203.7" x2="423.2" y2="304.1" stroke="#404040" stroke-width="0.8"/>
<line x1="423.2" y1="211.7" x2="423.2" y2="296.4" stroke="#404040" stroke-width="2.4"/>
<circle cx="423.2" cy="256.2" r="0.7" fill="#ddd"/>
<path d="M451.7 196L452.4 205L452.3 218.2L458.8 224L451.7 228.5Z" fill="#e08d2b" stroke="#404040" stroke-width="0.9" stroke-linejoin="round"/>
<path d="M451.7 293.1L450.3 296L449.8 299.5L448.5 302L444 303.5L440.5 304.6L445 306.2L451.7 307.2Z" fill="#5686ad" stroke="#404040" stroke-width="0.9" stroke-linejoin="round"/>
<line x1="451.7" y1="195.8" x2="451.7" y2="307.2" stroke="#404040" stroke-width="0.8"/>
<line x1="451.7" y1="222.2" x2="451.7" y2="304" stroke="#404040" stroke-width="2.4"/>
<circle cx="451.7" cy="259.3" r="0.7" fill="#ddd"/>
<path d="M480.2 191L483.9 191.9L480.2 193Z" fill="#e08d2b" stroke="#404040" stroke-width="0.9" stroke-linejoin="round"/>
<path d="M480.2 291.5L468.5 292.3L480.2 293.3Z" fill="#5686ad" stroke="#404040" stroke-width="0.9" stroke-linejoin="round"/>
<line x1="480.2" y1="191" x2="480.2" y2="293.7" stroke="#404040" stroke-width="0.8"/>
<line x1="480.2" y1="192.6" x2="480.2" y2="293.7" stroke="#404040" stroke-width="2.6"/>
<circle cx="480.2" cy="245.3" r="0.7" fill="#ddd"/>
</svg>
</body></html>
